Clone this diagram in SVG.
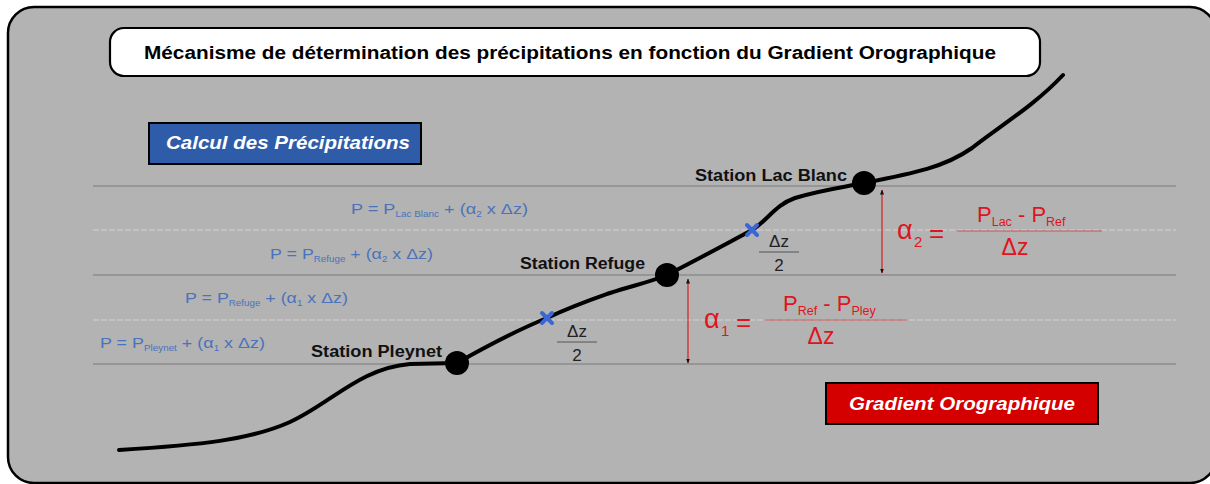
<svg xmlns="http://www.w3.org/2000/svg" width="1210" height="484" viewBox="0 0 1210 484">
<defs>
<marker id="ah" viewBox="0 0 10 10" refX="9" refY="5" markerWidth="5" markerHeight="6" orient="auto-start-reverse" markerUnits="userSpaceOnUse">
<path d="M0,1 L10,5 L0,9 Z" fill="#111"/>
</marker>
<style>
.sans{font-family:"Liberation Sans",Arial,sans-serif}
.title{font-size:18px;font-weight:bold;fill:#000}
.btxt{font-size:19px;font-weight:bold;font-style:italic;fill:#fff}
.stn{font-size:16px;font-weight:bold;fill:#111}
.frm{font-size:15.5px;fill:#4a72bd}
.sub{font-size:8.5px}
.red{fill:#e0141e}
.dark{stroke:#8c8c8c;stroke-width:1.3;fill:none}
.light{stroke:#c9c9c9;stroke-width:1.3;fill:none;stroke-dasharray:6 2}
.curve{stroke:#000;stroke-width:4;fill:none;stroke-linecap:round}
.arr{stroke:#d42a2a;stroke-width:1.3;fill:none;marker-start:url(#ah);marker-end:url(#ah)}
.cross{stroke:#3a66d6;stroke-width:4;stroke-linecap:round}
.fbar{stroke:#555;stroke-width:1}
.rbar{stroke:#cc5555;stroke-width:1.2}
.half{font-size:17px;fill:#222}
</style>
</defs>
<rect width="1210" height="484" fill="#fff"/>
<g id="frame"><rect x="8" y="7" width="1208" height="476" rx="26" ry="26" fill="#b3b3b3" stroke="#000" stroke-width="2.5"/></g>

<g id="guides">
<line class="dark" x1="93" y1="186" x2="1176" y2="186"/>
<line class="light" x1="93" y1="230" x2="1176" y2="230"/>
<line class="dark" x1="93" y1="275" x2="1176" y2="275"/>
<line class="light" x1="93" y1="320" x2="1176" y2="320"/>
<line class="dark" x1="93" y1="364" x2="1176" y2="364"/>
</g>

<g id="title">
<rect x="110" y="28" width="930" height="48" rx="14" ry="14" fill="#fff" stroke="#000" stroke-width="2.2"/>
<text class="sans title" x="144" y="59" textLength="852" lengthAdjust="spacingAndGlyphs">Mécanisme de détermination des précipitations en fonction du Gradient Orographique</text>
</g>

<g id="calcul-box">
<rect x="149" y="123" width="272" height="41" fill="#2f5ca8" stroke="#000" stroke-width="2"/>
<text class="sans btxt" x="166" y="149" textLength="244" lengthAdjust="spacingAndGlyphs">Calcul des Précipitations</text>
</g>

<g id="gradient-box">
<rect x="826" y="383" width="272" height="41" fill="#d40000" stroke="#000" stroke-width="2"/>
<text class="sans btxt" x="849" y="410" textLength="226" lengthAdjust="spacingAndGlyphs">Gradient Orographique</text>
</g>

<g id="formulas" class="sans frm">
<text x="351" y="214" textLength="177" lengthAdjust="spacingAndGlyphs">P = P<tspan class="sub" dy="3">Lac Blanc</tspan><tspan dy="-3"> + (α</tspan><tspan class="sub" dy="3">2</tspan><tspan dy="-3"> x Δz)</tspan></text>
<text x="270" y="259" textLength="163" lengthAdjust="spacingAndGlyphs">P = P<tspan class="sub" dy="3">Refuge</tspan><tspan dy="-3"> + (α</tspan><tspan class="sub" dy="3">2</tspan><tspan dy="-3"> x Δz)</tspan></text>
<text x="185" y="303" textLength="163" lengthAdjust="spacingAndGlyphs">P = P<tspan class="sub" dy="3">Refuge</tspan><tspan dy="-3"> + (α</tspan><tspan class="sub" dy="3">1</tspan><tspan dy="-3"> x Δz)</tspan></text>
<text x="100" y="348" textLength="165" lengthAdjust="spacingAndGlyphs">P = P<tspan class="sub" dy="3">Pleynet</tspan><tspan dy="-3"> + (α</tspan><tspan class="sub" dy="3">1</tspan><tspan dy="-3"> x Δz)</tspan></text>
</g>

<g id="connectors">
<path class="curve" d="M119,450 C200,445 250,440 290,422 C330,404 360,368 410,364 L457,363 C480,350 510,333 547,318 C575,305 590,300 610,293 C635,285 650,282 667,275 C700,258 730,242 752,230 C768,220 775,205 795,198 C820,190 845,187 864,183 C915,173 945,167 972,148 C1000,126 1035,105 1063,75"/>
<line class="arr" x1="688" y1="279" x2="688" y2="363"/>
<line class="arr" x1="882" y1="190" x2="882" y2="273"/>
</g>

<g id="markers">
<g id="mid1"><line class="cross" x1="542" y1="313" x2="552" y2="323"/><line class="cross" x1="552" y1="313" x2="542" y2="323"/></g>
<g id="mid2"><line class="cross" x1="747" y1="225" x2="757" y2="235"/><line class="cross" x1="757" y1="225" x2="747" y2="235"/></g>
</g>

<g id="station-pleynet">
<circle cx="457" cy="363" r="12" fill="#000"/>
<text class="sans stn" x="311" y="357" textLength="131" lengthAdjust="spacingAndGlyphs">Station Pleynet</text>
</g>
<g id="station-refuge">
<circle cx="667" cy="275" r="12" fill="#000"/>
<text class="sans stn" x="520" y="269" textLength="125" lengthAdjust="spacingAndGlyphs">Station Refuge</text>
</g>
<g id="station-lacblanc">
<circle cx="864" cy="183" r="12" fill="#000"/>
<text class="sans stn" x="695" y="181" textLength="152" lengthAdjust="spacingAndGlyphs">Station Lac Blanc</text>
</g>

<g id="half1">
<text class="sans half" x="577" y="337" text-anchor="middle">Δz</text>
<line class="fbar" x1="557" y1="342" x2="597" y2="342"/>
<text class="sans half" x="577" y="361" text-anchor="middle">2</text>
</g>
<g id="half2">
<text class="sans half" x="779" y="247" text-anchor="middle">Δz</text>
<line class="fbar" x1="759" y1="252" x2="799" y2="252"/>
<text class="sans half" x="779" y="271" text-anchor="middle">2</text>
</g>

<g id="alpha1" class="sans red">
<text x="704" y="328" font-size="27">α</text>
<text x="721" y="336" font-size="15">1</text>
<text x="736" y="331" font-size="26">=</text>
<text x="783" y="311" font-size="22">P<tspan font-size="12.5" dy="4">Ref</tspan><tspan dy="-4"> - P</tspan><tspan font-size="12.5" dy="4">Pley</tspan></text>
<line class="rbar" x1="765" y1="320" x2="907" y2="320"/>
<text x="821" y="344" font-size="23" text-anchor="middle">Δz</text>
</g>
<g id="alpha2" class="sans red">
<text x="897" y="239" font-size="27">α</text>
<text x="914" y="247" font-size="15">2</text>
<text x="929" y="242" font-size="26">=</text>
<text x="977" y="222" font-size="22">P<tspan font-size="12.5" dy="4">Lac</tspan><tspan dy="-4"> - P</tspan><tspan font-size="12.5" dy="4">Ref</tspan></text>
<line class="rbar" x1="957" y1="231" x2="1102" y2="231"/>
<text x="1015" y="255" font-size="23" text-anchor="middle">Δz</text>
</g>
</svg>
